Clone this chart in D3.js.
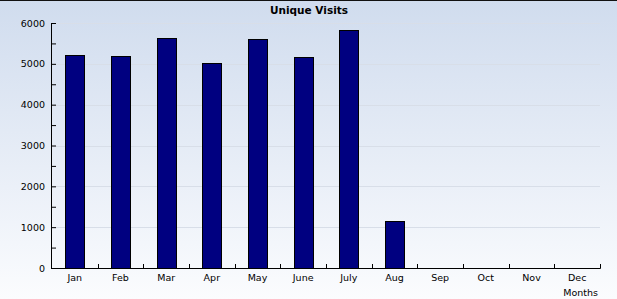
<!DOCTYPE html>
<html>
<head>
<meta charset="utf-8">
<script src="https://cdn.jsdelivr.net/npm/d3@7"></script>
<style>
  html, body { margin: 0; padding: 0; background: #fff; }
  svg { display: block; }
  text { font-family: "DejaVu Sans", Verdana, sans-serif; }
</style>
</head>
<body>
<div id="chart"></div>
<script>
// data
var months = ["Jan", "Feb", "Mar", "Apr", "May", "June", "July", "Aug", "Sep", "Oct", "Nov", "Dec"];
var visits = [5215, 5190, 5635, 5030, 5610, 5160, 5830, 1150, 0, 0, 0, 0];
var yTicks = [0, 1000, 2000, 3000, 4000, 5000, 6000];

var attrs = {
  svgWidth: 617,
  svgHeight: 299,
  marginTop: 23,
  marginLeft: 52,
  marginRight: 17,
  marginBottom: 31,
  barFill: "#000080",
  barRatio: 0.41
};

var calc = {};
calc.chartWidth = attrs.svgWidth - attrs.marginLeft - attrs.marginRight;
calc.chartHeight = attrs.svgHeight - attrs.marginTop - attrs.marginBottom;

var svg = d3.select("#chart").append("svg")
  .attr("width", attrs.svgWidth)
  .attr("height", attrs.svgHeight);

// background gradient
var grad = svg.append("defs").append("linearGradient")
  .attr("id", "bg").attr("x1", 0).attr("y1", 0).attr("x2", 0).attr("y2", 1);
grad.append("stop").attr("offset", "0%").attr("stop-color", "#d0dcee");
grad.append("stop").attr("offset", "100%").attr("stop-color", "#fbfcfe");

svg.append("rect")
  .attr("width", attrs.svgWidth).attr("height", attrs.svgHeight)
  .attr("fill", "url(#bg)");
svg.append("line")
  .attr("x1", 0).attr("x2", attrs.svgWidth).attr("y1", 0.5).attr("y2", 0.5)
  .attr("stroke", "#111");

// title
svg.append("text")
  .attr("x", 309).attr("y", 14)
  .attr("text-anchor", "middle")
  .attr("font-size", "10.5px")
  .attr("font-weight", "bold")
  .attr("fill", "#000")
  .text("Unique Visits");

var chart = svg.append("g")
  .attr("transform", "translate(" + attrs.marginLeft + "," + attrs.marginTop + ")");

// scales
var x = d3.scaleBand().domain(months).range([0, calc.chartWidth]).padding(0);
var y = d3.scaleLinear().domain([0, 6000]).range([calc.chartHeight, 0]);

// grid
chart.append("g").selectAll("line")
  .data(yTicks.filter(function (d) { return d > 0; }))
  .enter().append("line")
  .attr("x1", 0).attr("x2", calc.chartWidth)
  .attr("y1", function (d) { return Math.round(y(d)) + 0.5; })
  .attr("y2", function (d) { return Math.round(y(d)) + 0.5; })
  .attr("stroke", "#d8dee8");

// bars
var bw = x.bandwidth() * attrs.barRatio;
chart.append("g").selectAll("rect")
  .data(visits.map(function (v, i) { return { name: months[i], value: v }; }).filter(function (d) { return d.value > 0; }))
  .enter().append("rect")
  .attr("x", function (d) { return Math.round(x(d.name) + (x.bandwidth() - bw) / 2) + 0.5; })
  .attr("y", function (d) { return Math.round(y(d.value)) + 0.5; })
  .attr("width", Math.round(bw))
  .attr("height", function (d) { return Math.round(calc.chartHeight - y(d.value)); })
  .attr("fill", attrs.barFill)
  .attr("stroke", "#000")
  .attr("stroke-width", 1);

// y axis
var yAxis = chart.append("g")
  .call(d3.axisRight(y).tickValues(d3.range(0, 6001, 500)).tickSize(4).tickFormat(""));
yAxis.select(".domain").remove();
yAxis.selectAll("line").attr("stroke", "#000");
chart.append("line")
  .attr("x1", -0.5).attr("x2", -0.5).attr("y1", 0).attr("y2", calc.chartHeight + 0.5)
  .attr("stroke", "#000");
chart.append("g").selectAll("text")
  .data(yTicks).enter().append("text")
  .attr("x", -7)
  .attr("y", function (d) { return y(d) + 3.5; })
  .attr("text-anchor", "end")
  .attr("font-size", "9.5px")
  .attr("fill", "#000")
  .text(function (d) { return d; });

// x axis
var xAxisG = chart.append("g")
  .attr("transform", "translate(0," + calc.chartHeight + ")");
xAxisG.append("line")
  .attr("x1", -1).attr("x2", calc.chartWidth + 0.5).attr("y1", 0.5).attr("y2", 0.5)
  .attr("stroke", "#000");
xAxisG.selectAll(".tick")
  .data(months).enter().append("line")
  .attr("x1", function (d) { return Math.round(x(d) + x.bandwidth()) + 0.5; })
  .attr("x2", function (d) { return Math.round(x(d) + x.bandwidth()) + 0.5; })
  .attr("y1", -4).attr("y2", 0.5)
  .attr("stroke", "#000");
xAxisG.selectAll(".lbl")
  .data(months).enter().append("text")
  .attr("x", function (d) { return x(d) + x.bandwidth() / 2; })
  .attr("y", 13)
  .attr("text-anchor", "middle")
  .attr("font-size", "9.5px")
  .attr("fill", "#000")
  .text(function (d) { return d; });

svg.append("text")
  .attr("x", 598).attr("y", 296)
  .attr("text-anchor", "end")
  .attr("font-size", "9.5px")
  .attr("fill", "#000")
  .text("Months");
</script>
</body>
</html>
